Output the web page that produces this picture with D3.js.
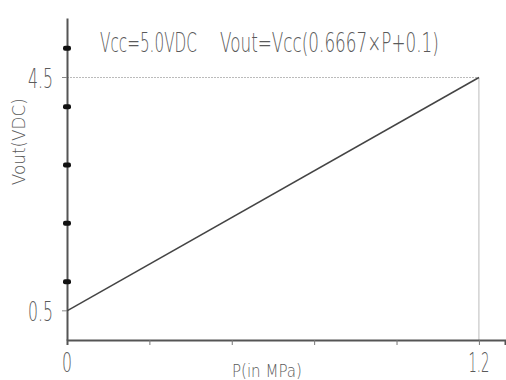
<!DOCTYPE html>
<html>
<head>
<meta charset="utf-8">
<script src="https://cdn.jsdelivr.net/npm/d3@7"></script>
<style>
  body { margin: 0; background: #fff; }
  text { font-family: "DejaVu Sans", sans-serif; font-weight: 200; fill: #5a5a5a; }
</style>
</head>
<body>
<div class="plot"></div>
<script>
/* chart data */
const pressure = [0, 1.2];          // P in MPa
const vout = [0.5, 4.5];            // Vout in VDC
const xMinorTicks = [0.24, 0.48, 0.72, 0.96];
const yMarkTicks = [1, 2, 3, 4, 5];
const xTickLabels = [0, 1.2];
const yTickLabels = [0.5, 4.5];
const title1 = "Vcc=5.0VDC";
const title2 = "Vout=Vcc(0.6667\u00d7P+0.1)";

const data = pressure.map((p, i) => ({p: p, v: vout[i]}));

/* svg with margin convention */
const margin = {top: 18, right: 1, bottom: 40, left: 67};
const width = 506 - margin.left - margin.right;
const height = 380 - margin.top - margin.bottom;

const svg = d3.select(".plot").append("svg")
  .attr("width", 506)
  .attr("height", 380)
  .append("g")
    .attr("transform", `translate(${margin.left},${margin.top})`);

/* condensed text: scale a text horizontally so it is len pixels wide */
function squeeze(sel, x, y, len, rot) {
  sel.each(function() {
    const w = this.getComputedTextLength();
    d3.select(this)
      .attr("x", 0).attr("y", 0)
      .attr("transform", `translate(${x},${y})` + (rot ? ` rotate(${rot})` : "") + ` scale(${len / w},1)`);
  });
}

/* scales */
const xScale = d3.scaleLinear().domain([0, 1.276]).range([0, width]);
const yScale = d3.scaleLinear().domain([0, 5.52]).range([height, 0]);

/* dotted guide lines to the end point */
const last = data[data.length - 1];
svg.append("line")
  .attr("x1", 0).attr("x2", xScale(last.p))
  .attr("y1", yScale(last.v)).attr("y2", yScale(last.v))
  .attr("stroke", "#bbb").attr("stroke-dasharray", "2,1");
svg.append("line")
  .attr("x1", xScale(last.p)).attr("x2", xScale(last.p))
  .attr("y1", yScale(last.v)).attr("y2", height)
  .attr("stroke", "#bbb");

/* x axis */
const xGroup = svg.append("g")
  .attr("transform", `translate(0,${height})`)
  .call(d3.axisBottom(xScale).tickValues(xMinorTicks.concat([1.2])).tickSize(5).tickFormat(""));
xGroup.select(".domain").attr("stroke", "#555").attr("stroke-width", 2);
xGroup.selectAll(".tick line").attr("stroke", "#777");

svg.selectAll(".xLabel")
  .data(xTickLabels)
  .join("text")
    .attr("class", "xLabel")
    .attr("text-anchor", "middle")
    .attr("font-size", 26)
    .text(d => d)
    .each(function(d) {
      d3.select(this).call(squeeze, xScale(d), height + 32, d === 0 ? 10 : 21);
    });

/* y axis */
const yGroup = svg.append("g")
  .call(d3.axisLeft(yScale).tickValues([]).tickSizeOuter(0));
yGroup.select(".domain").attr("stroke", "#555").attr("stroke-width", 2);

svg.selectAll(".yMark")
  .data(yMarkTicks)
  .join("rect")
    .attr("class", "yMark")
    .attr("x", -4)
    .attr("y", d => yScale(d) - 2.5)
    .attr("width", 8)
    .attr("height", 5)
    .attr("rx", 2)
    .attr("fill", "#111");

svg.selectAll(".yTick")
  .data(yTickLabels)
  .join("line")
    .attr("class", "yTick")
    .attr("x1", -5).attr("x2", 0)
    .attr("y1", d => yScale(d)).attr("y2", d => yScale(d))
    .attr("stroke", "#888");

svg.selectAll(".yLabel")
  .data(yTickLabels)
  .join("text")
    .attr("class", "yLabel")
    .attr("font-size", 27)
    .text(d => d3.format(".1f")(d))
    .each(function(d) {
      d3.select(this).call(squeeze, -39, yScale(d) + 10, 25);
    });

/* data line */
const line = d3.line()
  .x(d => xScale(d.p))
  .y(d => yScale(d.v));

svg.append("path")
  .datum(data)
  .attr("d", line)
  .attr("fill", "none")
  .attr("stroke", "#444")
  .attr("stroke-width", 1.5);

/* titles */
svg.append("text")
  .attr("font-size", 26)
  .text(title1)
  .call(squeeze, 33, 34, 97);
svg.append("text")
  .attr("font-size", 26)
  .text(title2)
  .call(squeeze, 153, 34, 219);

svg.append("text")
  .attr("text-anchor", "middle")
  .attr("font-size", 17)
  .text("Vout(VDC)")
  .call(squeeze, -42, yScale(3.4), 87, -90);

svg.append("text")
  .attr("font-size", 18)
  .text("P(in MPa)")
  .call(squeeze, 165, height + 37, 70);
</script>
</body>
</html>
